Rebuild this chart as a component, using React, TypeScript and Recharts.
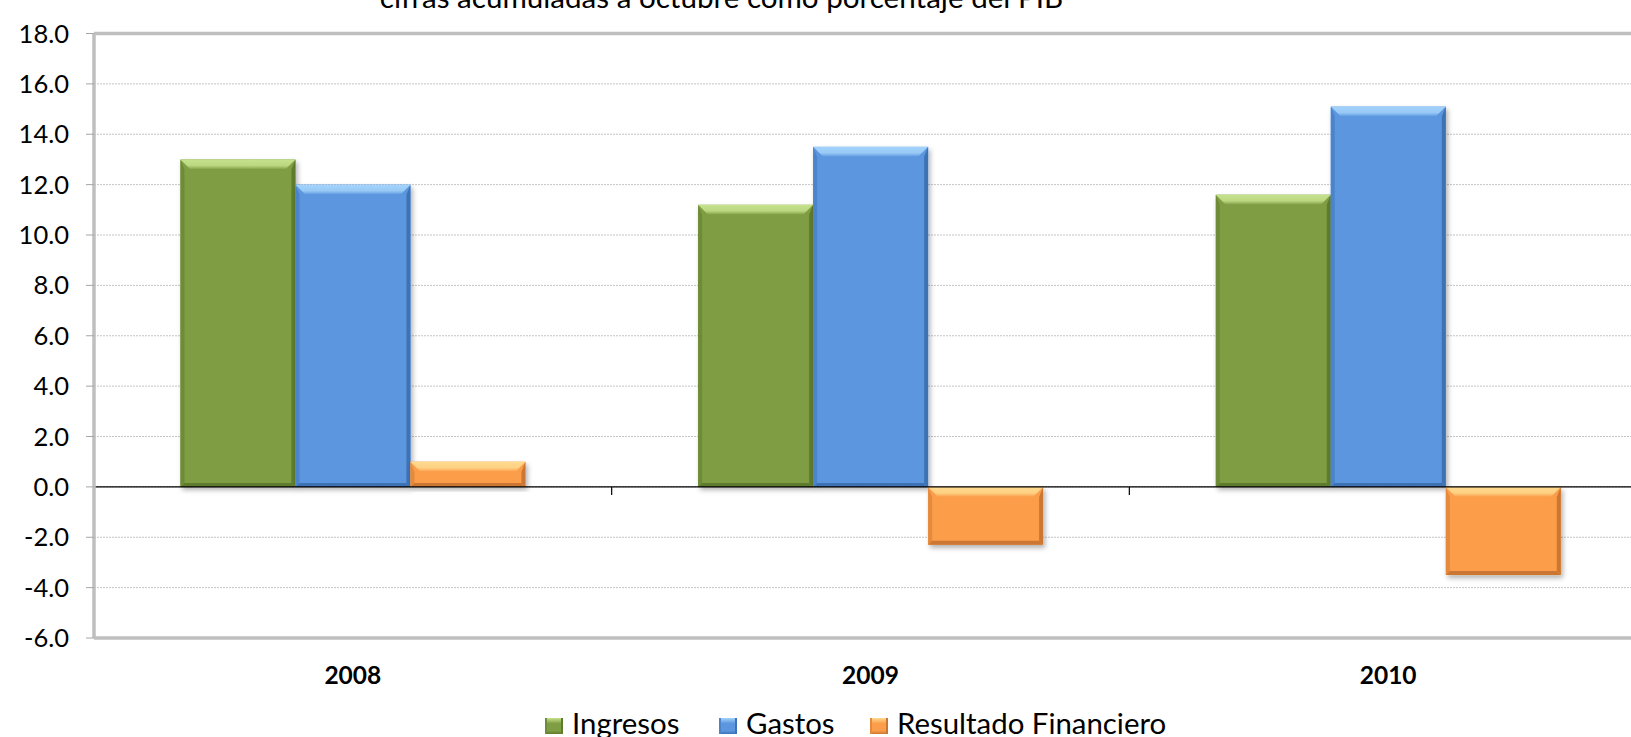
import React from 'react';
import { BarChart, Bar, XAxis, YAxis, CartesianGrid, ReferenceLine, Legend } from 'recharts';

const categories = ['2008', '2009', '2010'];
const ingresos = [13.0, 11.2, 11.6];
const gastos = [12.0, 13.5, 15.1];
const resultado = [1.0, -2.3, -3.5];
const seriesNames = ['Ingresos', 'Gastos', 'Resultado Financiero'];
const yTicks = [-6, -4, -2, 0, 2, 4, 6, 8, 10, 12, 14, 16, 18];
const title = 'cifras acumuladas a octubre como porcentaje del PIB';

const data = categories.map((c, i) => ({
  year: c,
  Ingresos: ingresos[i],
  Gastos: gastos[i],
  'Resultado Financiero': resultado[i],
}));

const FONT = 'Lato, "Open Sans", sans-serif';

const PAL: Record<string, { id: string; main: string; light: string; dark: string; side: string }> = {
  Ingresos: { id: 'g', main: '#7F9D43', light: '#C6E28C', dark: '#5F7B2D', side: '#6E8C38' },
  Gastos: { id: 'b', main: '#5B96DE', light: '#A3D3FB', dark: '#3E72B5', side: '#4C84CB' },
  'Resultado Financiero': { id: 'o', main: '#FB9D4A', light: '#FFDA8E', dark: '#CB7630', side: '#E58A3C' },
};

const LEGEND_LEFT = [545, 719, 870];

const makeShape = (key: string) => (props: any) => {
  const { x, y, width, height } = props;
  if (x == null || y == null || !width || !height) return <g />;
  const c = PAL[key];
  const top = Math.min(y, y + height);
  const h = Math.abs(height);
  const b = Math.min(10, h / 2.2);
  const s = Math.min(4, width / 6);
  const bx = Math.min(10, width / 4);
  return (
    <g filter="url(#barShadow)">
      <rect x={x} y={top} width={width} height={h} fill={c.main} />
      <polygon points={`${x},${top} ${x + s},${top + b} ${x + s},${top + h - s} ${x},${top + h}`} fill={c.side} />
      <polygon
        points={`${x + width},${top} ${x + width - s},${top + b} ${x + width - s},${top + h - s} ${x + width},${top + h}`}
        fill={c.dark}
      />
      <polygon
        points={`${x},${top + h} ${x + s},${top + h - s} ${x + width - s},${top + h - s} ${x + width},${top + h}`}
        fill={c.dark}
      />
      <polygon
        points={`${x},${top} ${x + width},${top} ${x + width - bx},${top + b} ${x + bx},${top + b}`}
        fill={`url(#top-${c.id})`}
      />
    </g>
  );
};

const LegendContent = () => {
  return (
    <div
      style={{
        position: 'relative',
        width: 1631,
        height: 30,
        fontFamily: FONT,
        fontSize: 29.4,
        lineHeight: '30px',
        color: '#000',
        whiteSpace: 'nowrap',
      }}
    >
      {seriesNames.map((name, i) => {
        const c = PAL[name];
        return (
          <span key={name} style={{ position: 'absolute', left: LEGEND_LEFT[i], top: 0 }}>
            <span
              style={{
                display: 'inline-block',
                width: 18,
                height: 16,
                marginRight: 9,
                verticalAlign: 'baseline',
                background: `linear-gradient(180deg, ${c.light} 0%, ${c.main} 35%, ${c.main} 80%, ${c.dark} 100%)`,
                boxShadow: `inset 2px 0 0 ${c.side}, inset -2px 0 0 ${c.dark}`,
              }}
            />
            {name}
          </span>
        );
      })}
    </div>
  );
};

const XTick = (props: any) => {
  const { x, y, payload } = props;
  return (
    <text x={x} y={y} textAnchor="middle" fontFamily={FONT} fontWeight={700} fontSize={24.5} fill="#000" dy={17.5}>
      {payload.value}
    </text>
  );
};

export default function App() {
  return (
    <div style={{ position: 'absolute', left: 0, top: 0, width: 1631, height: 737, overflow: 'hidden', background: '#fff' }}>
      <svg width={0} height={0} style={{ position: 'absolute' }}>
        <defs>
          <filter id="barShadow" x="-20%" y="-20%" width="140%" height="140%">
            <feDropShadow dx={2} dy={3} stdDeviation={2.5} floodColor="#000" floodOpacity={0.3} />
          </filter>
          {Object.values(PAL).map((c) => (
            <linearGradient key={c.id} id={`top-${c.id}`} x1="0" y1="0" x2="0" y2="1">
              <stop offset="0%" stopColor={c.light} />
              <stop offset="60%" stopColor={c.light} stopOpacity={0.85} />
              <stop offset="100%" stopColor={c.main} />
            </linearGradient>
          ))}
        </defs>
      </svg>
      <div
        style={{
          position: 'absolute',
          left: 0,
          width: 1443,
          top: -20,
          textAlign: 'center',
          fontFamily: FONT,
          fontSize: 29.6,
          lineHeight: '34px',
          color: '#000',
          whiteSpace: 'nowrap',
        }}
      >
        {title}
      </div>
      <BarChart
        width={1631}
        height={737}
        data={data}
        margin={{ top: 33.5, right: -16, left: 0, bottom: 0 }}
        barCategoryGap="16.7%"
        barGap={0}
      >
        <CartesianGrid vertical={false} stroke="#c4c4c4" strokeDasharray="2 1" />
        <XAxis
          dataKey="year"
          height={99}
          axisLine={false}
          tickLine={false}
          tickSize={6}
          tickMargin={22}
          tick={<XTick />}
          interval={0}
        />
        <YAxis
          width={94}
          domain={[-6, 18]}
          ticks={yTicks}
          interval={0}
          allowDataOverflow
          tickFormatter={(v: number) => v.toFixed(1)}
          tick={{ fontFamily: FONT, fontSize: 25.5, fill: '#000' }}
          tickSize={8}
          tickMargin={17}
          tickLine={{ stroke: '#a6a6a6' }}
          axisLine={{ stroke: '#bfbfbf', strokeWidth: 3.5 }}
        />
        <Legend
          verticalAlign="middle"
          align="center"
          layout="horizontal"
          wrapperStyle={{ top: 708, left: 0, width: 1631, height: 30 }}
          content={<LegendContent />}
        />
        <Bar dataKey="Ingresos" fill={PAL['Ingresos'].main} shape={makeShape('Ingresos')} isAnimationActive={false} />
        <Bar dataKey="Gastos" fill={PAL['Gastos'].main} shape={makeShape('Gastos')} isAnimationActive={false} />
        <Bar
          dataKey="Resultado Financiero"
          fill={PAL['Resultado Financiero'].main}
          shape={makeShape('Resultado Financiero')}
          isAnimationActive={false}
        />
        <ReferenceLine y={18} stroke="#bfbfbf" strokeWidth={3.5} />
        <ReferenceLine y={-6} stroke="#bfbfbf" strokeWidth={3.5} />
        <ReferenceLine y={0} stroke="#000" strokeWidth={1.2} />
        {categories.map((c) => (
          <ReferenceLine
            key={c}
            position="start"
            stroke="#000"
            strokeWidth={1.2}
            segment={[
              { x: c, y: 0 },
              { x: c, y: -0.32 },
            ]}
            ifOverflow="visible"
          />
        ))}
      </BarChart>
    </div>
  );
}
